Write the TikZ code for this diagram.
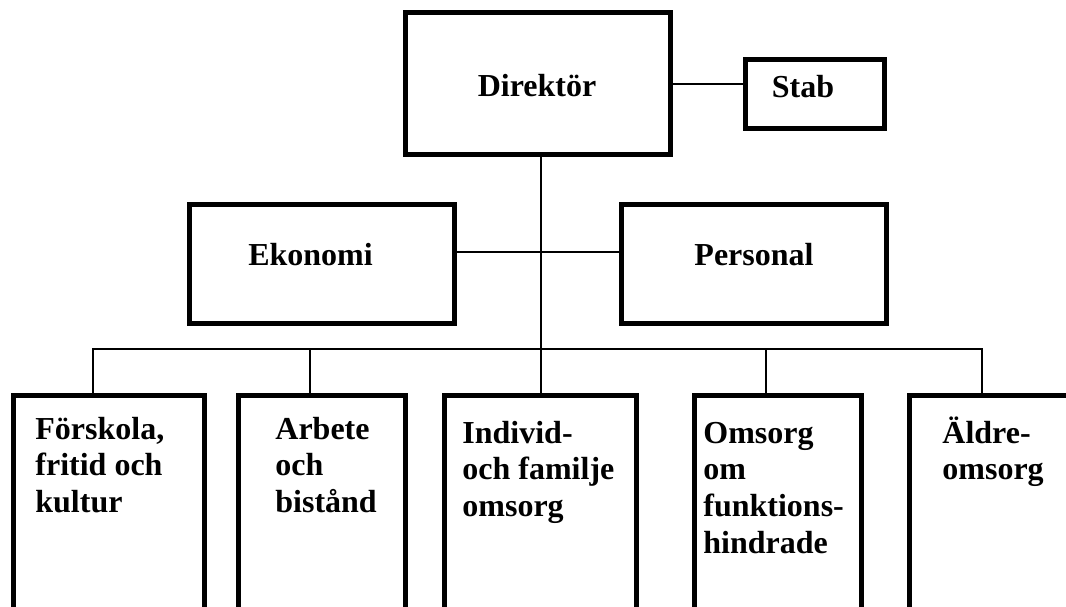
\documentclass[tikz,border=0pt]{standalone}
\usepackage{fontspec}
\setmainfont{Liberation Serif}

\begin{document}
\begin{tikzpicture}[
		x = 0.5pt, y = -0.5pt,
		box/.style = {
			shape = rectangle,
			draw,
			line width = 2.5pt,
			inner sep = 0pt,
		},
		unit/.style = {
			box,
			minimum height = 130pt,
		},
		lbl/.style = {
			inner sep = 0pt,
			font = \bfseries\fontsize{16}{18.35}\selectfont,
		},
		link/.style = {
			line width = 1pt,
		},
	]
	\useasboundingbox (0, 0) rectangle (1066, 606);
	\clip (0, 0) rectangle (1066, 606);

	% top level
	\draw (538, 83.5) node (dir) [box, minimum width = 132.5pt, minimum height = 71pt] {};
	\draw (815, 94) node (stab) [box, minimum width = 69.5pt, minimum height = 34.5pt] {};
	\draw (322, 264) node (eko) [box, minimum width = 132.5pt, minimum height = 59.5pt] {};
	\draw (754, 264) node (pers) [box, minimum width = 132.5pt, minimum height = 59.5pt] {};

	% units
	\draw (109, 525.5) node (f1) [unit, minimum width = 95.5pt] {};
	\draw (322, 525.5) node (f2) [unit, minimum width = 83.5pt] {};
	\draw (540.5, 525.5) node (f3) [unit, minimum width = 96pt] {};
	\draw (778, 525.5) node (f4) [unit, minimum width = 83.5pt] {};
	\draw (1009.5, 525.5) node (f5) [unit, minimum width = 100pt] {};

	\draw (537, 96) node (dirtext) [lbl, anchor = base] {Direktör};
	\draw (803, 97.5) node (stabtext) [lbl, anchor = base] {Stab};
	\draw (310.5, 265) node (ekotext) [lbl, anchor = base] {Ekonomi};
	\draw (754, 265) node (perstext) [lbl, anchor = base] {Personal};

	\draw (35, 439) node (f1text) [lbl, anchor = base west] {\parbox[t]{90pt}{Förskola,\\fritid och\\kultur}};
	\draw (275, 439) node (f2text) [lbl, anchor = base west] {\parbox[t]{90pt}{Arbete\\och\\bistånd}};
	\draw (462, 443) node (f3text) [lbl, anchor = base west] {\parbox[t]{90pt}{Individ-\\och familje\\omsorg}};
	\draw (703, 443) node (f4text) [lbl, anchor = base west] {\parbox[t]{90pt}{Omsorg\\om\\funktions-\\hindrade}};
	\draw (942, 443) node (f5text) [lbl, anchor = base west] {\parbox[t]{90pt}{Äldre-\\omsorg}};

	% connectors
	\coordinate (bus) at (541, 348.5);
	\foreach \n/\x in {f1/93, f2/310, f3/541, f4/766, f5/982} {
		\coordinate (t\n) at (\x, 348.5);
	}

	\draw [link] (dir.east) -- (dir.east -| stab.west);
	\draw [link] ([yshift = 6pt]eko.east) -- ([yshift = 6pt]pers.west);
	\draw [link] ([xshift = 1.5pt]dir.south) -- (bus);
	\draw [link] (tf1 |- f1.north) -- (tf1) -- (tf5) -- (tf5 |- f5.north);
	\draw [link] (tf2) -- (tf2 |- f2.north);
	\draw [link] (tf3) -- (tf3 |- f3.north);
	\draw [link] (tf4) -- (tf4 |- f4.north);
\end{tikzpicture}
\end{document}
